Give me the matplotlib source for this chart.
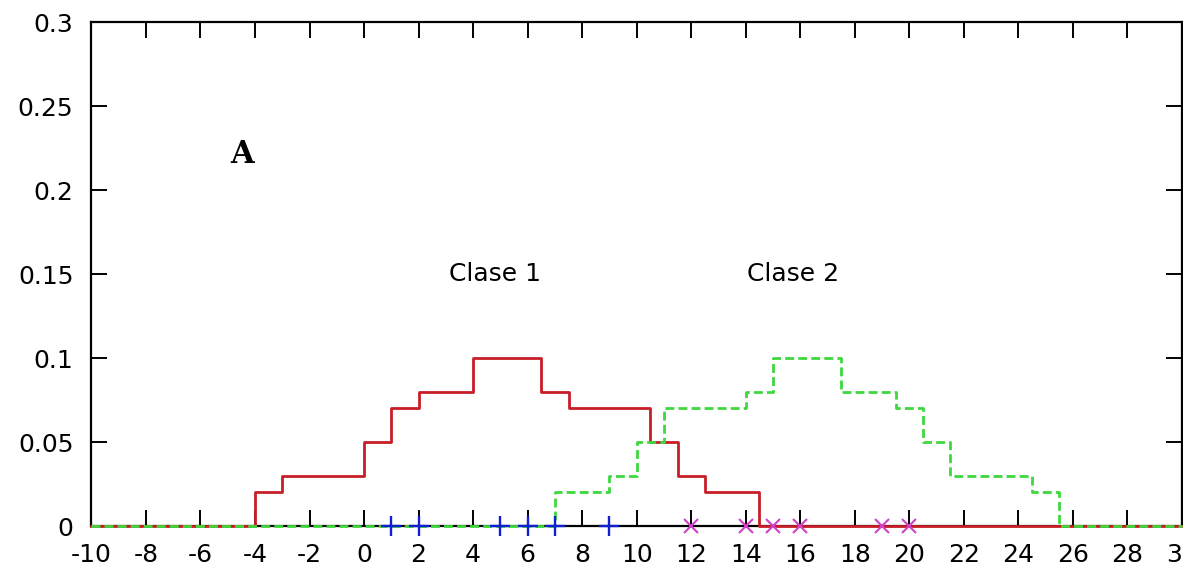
import numpy as np
import matplotlib.pyplot as plt

plt.rcParams['axes.unicode_minus'] = False

# step estimates of the two class densities (bin edges and heights)
edges_c1 = [-4, -3, 0, 1, 2, 4, 6.5, 7.5, 10.5, 11.5, 12.5, 14.5]
dens_c1 = [0.02, 0.03, 0.05, 0.07, 0.08, 0.10, 0.08, 0.07, 0.05, 0.03, 0.02]

edges_c2 = [7, 9, 10, 11, 14, 15, 17.5, 19.5, 20.5, 21.5, 24.5, 25.5]
dens_c2 = [0.02, 0.03, 0.05, 0.07, 0.08, 0.10, 0.08, 0.07, 0.05, 0.03, 0.02]

# training samples
samples_c1 = [1, 2, 5, 6, 7, 9]
samples_c2 = [12, 14, 15, 16, 19, 20]

xmin, xmax = -10, 30


def step_curve(edges, dens):
    xs = [xmin] + list(edges) + [xmax]
    ys = [0] + list(dens) + [0, 0]
    return xs, ys


fig = plt.figure(figsize=(11.83, 5.73), dpi=100)
ax = fig.add_axes([0.0773, 0.082, 0.9218, 0.8796])

x1, y1 = step_curve(edges_c1, dens_c1)
x2, y2 = step_curve(edges_c2, dens_c2)
ax.step(x1, y1, where='post', color='#c81e28', lw=2.0, zorder=3, clip_on=False)
ax.step(x2, y2, where='post', color='#3ed83e', lw=2.0, dashes=[3.2, 1.5],
        zorder=4, clip_on=False)

ax.plot(samples_c1, np.zeros(len(samples_c1)), ls='none', marker='+',
        ms=14, mew=1.7, color='#1020d0', clip_on=False, zorder=5)
ax.plot(samples_c2, np.zeros(len(samples_c2)), ls='none', marker='x',
        ms=10, mew=1.5, color='#d040c8', clip_on=False, zorder=5)

ax.text(-4.9, 0.221, 'A', fontsize=22, fontweight='bold', family='DejaVu Serif',
        va='center', ha='left')
ax.text(3.1, 0.15, 'Clase 1', fontsize=18, va='center', ha='left')
ax.text(14.05, 0.15, 'Clase 2', fontsize=18, va='center', ha='left')

ax.set_xlim(xmin, xmax)
ax.set_ylim(0, 0.3)
ax.set_xticks(np.arange(-10, 31, 2))
ax.set_yticks([0, 0.05, 0.1, 0.15, 0.2, 0.25, 0.3])
ax.set_yticklabels(['0', '0.05', '0.1', '0.15', '0.2', '0.25', '0.3'])
ax.tick_params(direction='in', length=11.5, width=1.4, top=True, right=True,
               labelsize=18)
ax.tick_params(axis='x', pad=12)
ax.tick_params(axis='y', pad=13)
for s in ax.spines.values():
    s.set_linewidth(1.6)

fig.savefig('out.png', dpi=100)
